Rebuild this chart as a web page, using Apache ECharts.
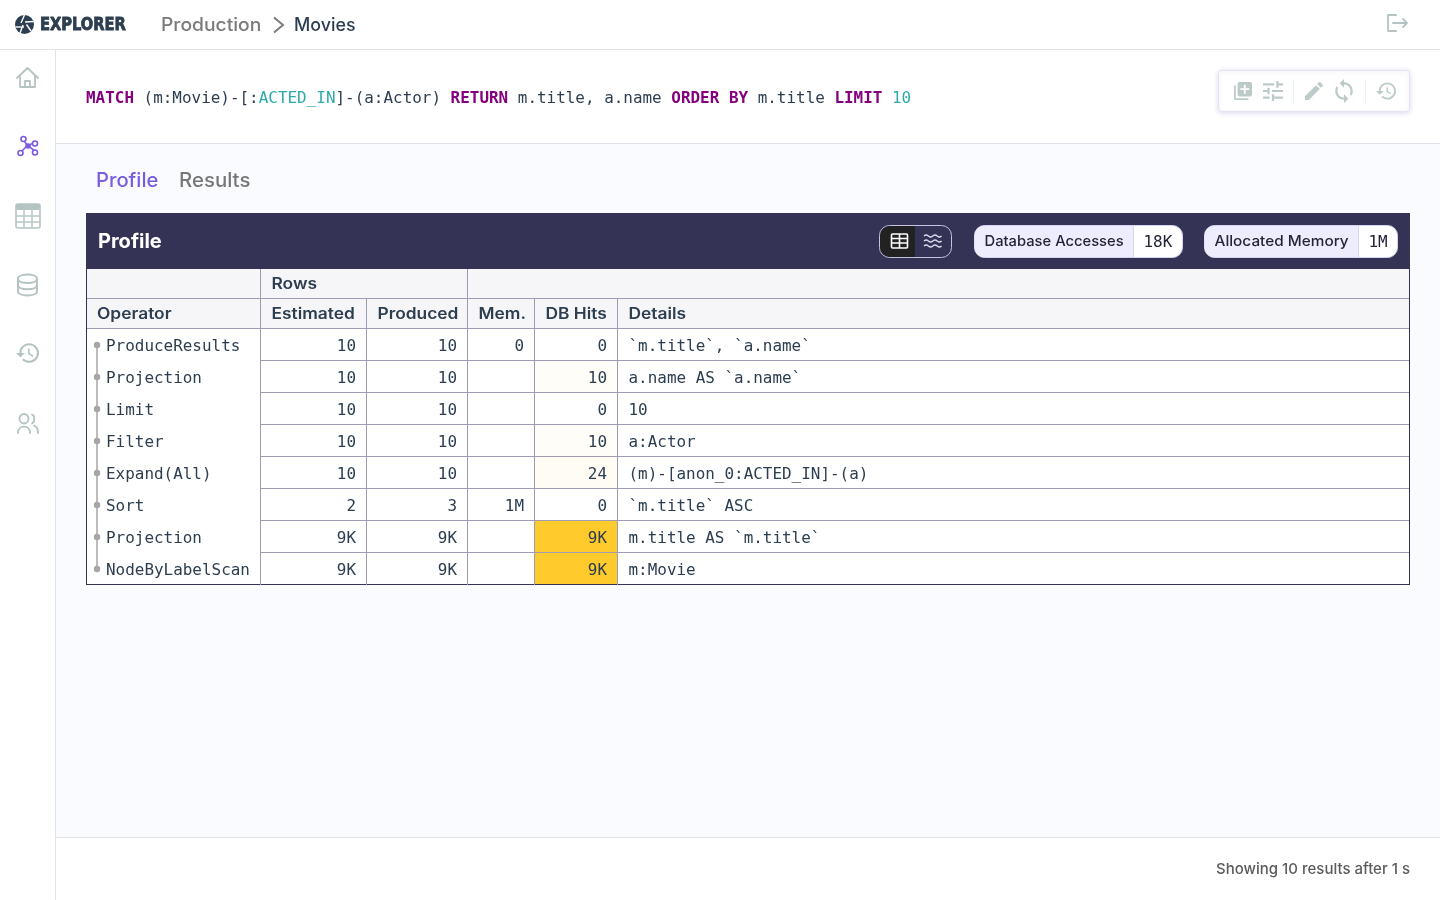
<!DOCTYPE html>
<html>
<head>
<meta charset="utf-8">
<title>Explorer - Profile</title>
<script src="https://cdn.jsdelivr.net/npm/echarts@6/dist/echarts.min.js"></script>
<style>
html, body { margin: 0; padding: 0; background: #fff; }
#main { width: 1440px; height: 900px; }
</style>
</head>
<body>
<div id="main"></div>
<script>
// table contents
var operators = ['ProduceResults', 'Projection', 'Limit', 'Filter', 'Expand(All)', 'Sort', 'Projection', 'NodeByLabelScan'];
var estimated = [10, 10, 10, 10, 10, 2, 9000, 9000];
var produced = [10, 10, 10, 10, 10, 3, 9000, 9000];
var memory = [0, null, null, null, null, 1000000, null, null];
var dbHits = [0, 10, 0, 10, 24, 0, 9000, 9000];
var details = ['`m.title`, `a.name`', 'a.name AS `a.name`', '10', 'a:Actor', '(m)-[anon_0:ACTED_IN]-(a)', '`m.title` ASC', 'm.title AS `m.title`', 'm:Movie'];
var columnTitles = ['Operator', 'Estimated', 'Produced', 'Mem.', 'DB Hits', 'Details'];

var SANS = 'Inter';
var MONO = '"DejaVu Sans Mono"';
var MONO_FONT = '15.95px ' + MONO;
var NAVY = '#2c3e50';
var BAND = '#343355';
var LINE = '#9e9bb3';
var ICON = '#b4c4c2';
var TOOL = '#bccbc9';

// column edges on the table x axis, px from the table's left side
var colEdges = [0, 175, 281, 382, 449, 532, 1324];

function fmt(v) {
    if (v === null) return '';
    if (v >= 1000000) return Math.round(v / 1000000) + 'M';
    if (v >= 1000) return Math.round(v / 1000) + 'K';
    return String(v);
}

// sc stretches Inter out to the width of the original's font
function sans(x, y, text, size, weight, color, sc, align) {
    return {
        type: 'text', x: x, y: y, scaleX: sc || 1, z2: 10,
        style: { text: text, x: 0, y: 0, font: weight + ' ' + size + 'px ' + SANS, fill: color, align: align || 'left', verticalAlign: 'middle' }
    };
}
function mono(x, y, text, color, align) {
    return {
        type: 'text', z2: 10,
        style: { text: text, x: x, y: y, font: MONO_FONT, fill: color || NAVY, align: align || 'left', verticalAlign: 'middle' }
    };
}
function box(x, y, w, h, fill, r, stroke, extra) {
    var el = {
        type: 'rect', z2: 1,
        shape: { x: x, y: y, width: w, height: h, r: r || 0 },
        style: { fill: fill, stroke: stroke || null, lineWidth: 1 }
    };
    for (var k in extra) el[k] = extra[k];
    return el;
}
function hline(x1, x2, y, color) {
    return { type: 'line', z2: 2, shape: { x1: x1, y1: y, x2: x2, y2: y }, style: { stroke: color, lineWidth: 1 } };
}
function vline(x, y1, y2, color) {
    return { type: 'line', z2: 12, shape: { x1: x, y1: y1, x2: x, y2: y2 }, style: { stroke: color, lineWidth: 1 } };
}
function icon(d, x, y, w, h, color) {
    return {
        type: 'path', z2: 11,
        shape: { pathData: d, x: x, y: y, width: w, height: h },
        style: { fill: color || ICON }
    };
}
function outline(d, x, y, w, h, color, lw) {
    return {
        type: 'path', z2: 11,
        shape: { pathData: d, x: x, y: y, width: w, height: h, layout: 'cover' },
        style: { fill: null, stroke: color || ICON, lineWidth: lw || 1.8, lineCap: 'round', lineJoin: 'round' }
    };
}

var HISTORY = 'M13 3c-4.97 0-9 4.03-9 9H1l3.89 3.89.07.14L9 12H6c0-3.87 3.13-7 7-7s7 3.13 7 7-3.13 7-7 7c-1.93 0-3.68-.79-4.94-2.06l-1.42 1.42C8.27 19.99 10.51 21 13 21c4.97 0 9-4.03 9-9s-4.03-9-9-9zm-1 5v5l4.28 2.54.72-1.21-3.5-2.08V8H12z';
var LIBRARY = 'M4 6H2v14c0 1.1.9 2 2 2h14v-2H4V6zm16-4H8c-1.1 0-2 .9-2 2v12c0 1.1.9 2 2 2h12c1.1 0 2-.9 2-2V4c0-1.1-.9-2-2-2zm-1 9h-4v4h-2v-4H9V9h4V5h2v4h4v2z';
var TUNE = 'M3 17v2h6v-2H3zM3 5v2h10V5H3zm10 16v-2h8v-2h-8v-2h-2v6h2zM7 9v2H3v2h4v2h2V9H7zm14 4v-2H11v2h10zm-6-4h2V7h4V5h-4V3h-2v6z';
var EDIT = 'M3 17.25V21h3.75L17.81 9.94l-3.75-3.75L3 17.25zM20.71 7.04c.39-.39.39-1.02 0-1.41l-2.34-2.34c-.39-.39-1.02-.39-1.41 0l-1.83 1.83 3.75 3.75 1.83-1.83z';
var SYNC = 'M12 4V1L8 5l4 4V6c3.31 0 6 2.69 6 6 0 1.01-.25 1.97-.7 2.8l1.46 1.46C19.54 15.03 20 13.57 20 12c0-4.42-3.58-8-8-8zm0 14c-3.31 0-6-2.69-6-6 0-1.01.25-1.97.7-2.8L5.24 7.74C4.46 8.97 4 10.43 4 12c0 4.42 3.58 8 8 8v3l4-4-4-4v3z';

function chrome() {
    var g = [];
    // panels
    g.push(box(56, 144, 1384, 693, '#fafbfe'));
    g.push(hline(0, 1440, 49.5, '#e1e1e9'));
    g.push(vline(55.5, 50, 900, '#e1e1e9'));
    g.push(hline(56, 1440, 143.5, '#e1e1e9'));
    g.push(hline(56, 1440, 837.5, '#e1e1e9'));

    // logo + breadcrumbs
    g.push({ type: 'circle', z2: 10, shape: { cx: 24.5, cy: 24.5, r: 9.5 }, style: { fill: '#2c3e50' } });
    ['M24.5 15 L21 23', 'M33.5 21.5 L25 22', 'M31 31 L26.5 24.5', 'M20 33 L23 25', 'M15.5 27 L24 27'].forEach(function (d) {
        g.push({ type: 'path', z2: 11, shape: { pathData: d }, style: { fill: null, stroke: '#fff', lineWidth: 1.4 } });
    });
    g.push({
        type: 'text', z2: 10, x: 40, y: 25.5, scaleX: 0.905,
        style: { text: 'EXPLORER', x: 0, y: 0, font: 'bold 18px "DejaVu Sans Condensed"', fill: NAVY, verticalAlign: 'middle', stroke: NAVY, lineWidth: 0.8 }
    });
    g.push(sans(161, 26, 'Production', 18, 500, '#7b7b7b', 1.07));
    g.push({ type: 'polyline', z2: 10, shape: { points: [[274, 17.5], [283, 25], [274, 32.5]] }, style: { fill: null, stroke: '#7b7b7b', lineWidth: 2 } });
    g.push(sans(294, 26, 'Movies', 18, 500, NAVY, 0.99));
    // logout
    g.push(outline('M1396 15 H1388 V31 H1396', 1388, 15, 8, 16));
    g.push(outline('M1393 23 H1407 M1403 19 L1407 23 L1403 27', 1393, 19, 14, 8));

    // side menu
    g.push(outline('M17 78 L27.5 68 L38 78 M20 75.5 V87 H35 V75.5 M25 87 V81 H30 V87', 17, 68, 21, 19));
    var p = '#7b5ce0';
    g.push(outline('M28 146 L23 139 M28 146 L36 143 M28 146 L22 152 M28 146 L35 151', 21, 138, 15, 14, p, 1.6));
    g.push({ type: 'circle', z2: 12, shape: { cx: 28, cy: 146, r: 2.8 }, style: { fill: p } });
    [[23.5, 139, 2.5], [35, 143.5, 2.5], [20.5, 153, 2.5], [35, 152.5, 2.5]].forEach(function (c) {
        g.push({ type: 'circle', z2: 12, shape: { cx: c[0], cy: c[1], r: c[2] }, style: { fill: '#fff', stroke: p, lineWidth: 1.6 } });
    });
    // table icon
    g.push(box(16, 204, 24, 24, '#fff', 2, ICON, { z2: 11, style: { fill: '#fff', stroke: ICON, lineWidth: 1.6 } }));
    g.push(box(16, 204, 24, 6, ICON, 2, null, { z2: 12 }));
    [216, 222].forEach(function (y) { g.push({ type: 'line', z2: 12, shape: { x1: 16, y1: y, x2: 40, y2: y }, style: { stroke: ICON, lineWidth: 1.4 } }); });
    [24, 32].forEach(function (x) { g.push({ type: 'line', z2: 12, shape: { x1: x, y1: 209, x2: x, y2: 228 }, style: { stroke: ICON, lineWidth: 1.4 } }); });
    // database
    g.push(outline('M18 279 C18 273.5 37 273.5 37 279 V291 C37 296.5 18 296.5 18 291 Z M18 279 C18 284.5 37 284.5 37 279 M18 285 C18 290.5 37 290.5 37 285', 18, 274.5, 19, 21, ICON, 2));
    g.push(icon(HISTORY, 16, 342, 23, 22));
    // users
    g.push(outline('M24 419.5 m-4.5 0 a4.5 4.5 0 1 0 9 0 a4.5 4.5 0 1 0 -9 0 M18 433 C18 425 30 425 30 433 M32 415.5 C35 416 35 423 32 424 M34 426 C37 427 38 430 38 433', 18, 414, 20, 19));

    // query
    g.push({
        type: 'text', z2: 10,
        style: {
            x: 86, y: 98.5, verticalAlign: 'middle',
            text: '{k|MATCH}{p| (m:Movie)-[:}{t|ACTED_IN}{p|]-(a:Actor) }{k|RETURN}{p| m.title, a.name }{k|ORDER BY}{p| m.title }{k|LIMIT}{p| }{t|10}',
            font: MONO_FONT,
            rich: {
                k: { font: 'bold ' + MONO_FONT, fill: '#85007f' },
                p: { font: MONO_FONT, fill: NAVY },
                t: { font: MONO_FONT, fill: '#2eabab' }
            }
        }
    });

    // query toolbar
    g.push(box(1218.5, 70.5, 191, 41, '#fff', 3, '#e3e3f1', { style: { fill: '#fff', stroke: '#e3e3f1', lineWidth: 1, shadowBlur: 5, shadowColor: 'rgba(110,100,190,0.22)', shadowOffsetY: 1 } }));
    g.push(icon(LIBRARY, 1234, 82, 18, 18, TOOL));
    g.push(icon(TUNE, 1263, 81, 20, 20, TOOL));
    g.push(vline(1293.5, 80, 103, '#eef0f0'));
    g.push(icon(EDIT, 1305, 82, 18, 18, TOOL));
    g.push(icon(SYNC, 1333, 79, 22, 24, TOOL));
    g.push(vline(1365.5, 80, 103, '#eef0f0'));
    g.push(icon(HISTORY, 1376, 81, 20, 20, TOOL));

    // tabs
    g.push(sans(96, 180.5, 'Profile', 20, 500, '#7b5ce0', 1.01));
    g.push(sans(179, 180.5, 'Results', 20, 500, '#777', 1.02));

    // profile band
    g.push(box(86, 213, 1324, 56, BAND));
    g.push(sans(98, 241.5, 'Profile', 20, 700, '#fff', 1));

    // view toggle
    g.push(box(879.5, 225.5, 72, 32, BAND, 10, '#c5c3e0', { z2: 3 }));
    g.push({ type: 'path', z2: 4, shape: { pathData: 'M890 226 H915 V257 H890 A10 10 0 0 1 880 247 V236 A10 10 0 0 1 890 226 Z' }, style: { fill: '#222' } });
    g.push(outline('M892.5 234 H906.5 Q907.5 234 907.5 235 V247 Q907.5 248 906.5 248 H892.5 Q891.5 248 891.5 247 V235 Q891.5 234 892.5 234 Z M891.5 238.5 H907.5 M891.5 243 H907.5 M899.5 234 V248', 891.5, 234, 16, 14, '#fff', 1.6));
    [236, 241, 246].forEach(function (y) {
        var d = 'M924 ' + y + ' q2.2 -2 4.4 0 t4.4 0 t4.4 0 t4.4 0';
        g.push({ type: 'path', z2: 11, shape: { pathData: d }, style: { fill: null, stroke: '#d9d8ee', lineWidth: 1.2 } });
    });

    // metric badges
    badge(g, 974.5, 1133.5, 1182.5, 'Database Accesses', '18K', 1.017);
    badge(g, 1204.5, 1358.5, 1397.5, 'Allocated Memory', '1M', 1.058);

    // footer
    g.push(sans(1410, 869.5, 'Showing 10 results after 1 s', 15, 500, '#5c5c5c', 1, 'right'));
    return g;
}

function badge(g, x0, xm, x1, label, value, sc) {
    g.push(box(x0, 225.5, x1 - x0, 32, '#fff', 10, '#d6d4f5', { z2: 3 }));
    g.push({
        type: 'path', z2: 4,
        shape: { pathData: 'M' + (x0 + 10) + ' 226 H' + xm + ' V257 H' + (x0 + 10) + ' A10 10 0 0 1 ' + x0 + ' 247 V236 A10 10 0 0 1 ' + (x0 + 10) + ' 226 Z' },
        style: { fill: '#eeedfd' }
    });
    g.push(vline(xm, 226, 257, '#d6d4f5'));
    g.push(sans(x0 + 10, 241.5, label, 14.5, 500, '#24243a', sc));
    g.push(mono(xm + 10, 242.5, value, '#24243a'));
}

// header cells: [from, to, row, text]
var headerCells = [
    [colEdges[0], colEdges[1], 0, ''],
    [colEdges[1], colEdges[3], 0, 'Rows'],
    [colEdges[3], colEdges[6], 0, '']
];
columnTitles.forEach(function (t, i) {
    headerCells.push([colEdges[i], colEdges[i + 1], 1, t]);
});

function renderHeader(params, api) {
    var c = headerCells[params.dataIndex];
    var a = api.coord([c[0], c[2]]);
    var b = api.coord([c[1], c[2]]);
    var h = api.size([0, 1])[1];
    var top = a[1] - h / 2, x0 = a[0], x1 = b[0];
    return {
        type: 'group',
        children: [
            { type: 'rect', shape: { x: x0, y: top, width: x1 - x0, height: h }, style: { fill: '#f6f6f9' } },
            { type: 'line', shape: { x1: x0, y1: top + h - 0.5, x2: x1, y2: top + h - 0.5 }, style: { stroke: LINE, lineWidth: 1 } },
            { type: 'line', shape: { x1: x1 - 0.5, y1: top, x2: x1 - 0.5, y2: top + h }, style: { stroke: c[1] === colEdges[6] ? BAND : LINE, lineWidth: 1 } },
            { type: 'line', shape: { x1: x0 + 0.5, y1: top, x2: x0 + 0.5, y2: top + h }, style: { stroke: c[0] === 0 ? BAND : 'transparent', lineWidth: 1 } },
            {
                type: 'text', x: x0 + 10.5 + (c[0] === 0 ? 0.5 : 0), y: a[1], scaleX: 1.12,
                style: { text: c[3], x: 0, y: 0, font: '600 15.5px ' + SANS, fill: NAVY, verticalAlign: 'middle' }
            }
        ]
    };
}

// body cells: one per table cell
var bodyCells = [];
[estimated, produced, memory, dbHits].forEach(function (values, col) {
    values.forEach(function (v, row) {
        bodyCells.push({ col: col + 1, row: row, value: v, text: fmt(v), align: 'right' });
    });
});
details.forEach(function (d, row) {
    bodyCells.push({ col: 5, row: row, value: null, text: d, align: 'left' });
});

var maxHits = Math.max.apply(null, dbHits);
function cellFill(c) {
    if (c.col !== 4 || !c.value) return '#fff';
    return echarts.color.lerp(Math.sqrt(c.value / maxHits), ['#ffffff', '#ffca2c']);
}

function renderCell(params, api) {
    var c = bodyCells[params.dataIndex];
    var a = api.coord([colEdges[c.col], c.row]);
    var b = api.coord([colEdges[c.col + 1], c.row]);
    var h = api.size([0, 1])[1];
    var top = a[1] - h / 2, x0 = a[0], x1 = b[0];
    var last = c.row === operators.length - 1;
    var right = c.col === 5;
    return {
        type: 'group',
        children: [
            { type: 'rect', shape: { x: x0, y: top, width: x1 - x0, height: h }, style: { fill: cellFill(c) } },
            { type: 'line', shape: { x1: x0, y1: top + h - 0.5, x2: x1, y2: top + h - 0.5 }, style: { stroke: last ? BAND : LINE, lineWidth: 1 } },
            { type: 'line', shape: { x1: x1 - 0.5, y1: top, x2: x1 - 0.5, y2: top + h }, style: { stroke: right ? BAND : LINE, lineWidth: 1 } },
            {
                type: 'text',
                style: {
                    text: c.text, x: c.align === 'right' ? x1 - 11 : x0 + 10.5, y: a[1] + 1.5,
                    font: MONO_FONT, fill: NAVY, align: c.align, verticalAlign: 'middle'
                }
            }
        ]
    };
}

// operator column, no row lines, with the plan tree down its left side
function renderOperator(params, api) {
    var row = params.dataIndex;
    var a = api.coord([colEdges[0], row]);
    var b = api.coord([colEdges[1], row]);
    var h = api.size([0, 1])[1];
    var top = a[1] - h / 2, last = row === operators.length - 1;
    return {
        type: 'group',
        children: [
            { type: 'rect', shape: { x: a[0], y: top, width: b[0] - a[0], height: h }, style: { fill: '#fff' } },
            { type: 'line', shape: { x1: a[0], y1: a[1] + h / 2 - 0.5, x2: b[0], y2: a[1] + h / 2 - 0.5 }, style: { stroke: last ? BAND : 'transparent', lineWidth: 1 } },
            { type: 'line', shape: { x1: b[0] - 0.5, y1: top, x2: b[0] - 0.5, y2: top + h }, style: { stroke: LINE, lineWidth: 1 } },
            { type: 'line', shape: { x1: a[0] + 0.5, y1: top, x2: a[0] + 0.5, y2: top + h }, style: { stroke: BAND, lineWidth: 1 } },
            { type: 'line', shape: { x1: a[0] + 11, y1: row === 0 ? a[1] : top, x2: a[0] + 11, y2: last ? a[1] : top + h }, style: { stroke: '#a6a6a6', lineWidth: 1.5 } },
            { type: 'circle', shape: { cx: a[0] + 11, cy: a[1], r: 3.2 }, style: { fill: '#a6a6a6' } },
            {
                type: 'text',
                style: { text: operators[row], x: a[0] + 20, y: a[1] + 1.5, font: MONO_FONT, fill: NAVY, verticalAlign: 'middle' }
            }
        ]
    };
}

var chart = echarts.init(document.getElementById('main'), null, { renderer: 'canvas' });
var hiddenX = { type: 'value', min: 0, max: colEdges[colEdges.length - 1], show: false };
var rowsAxis = function (data, idx) {
    return { type: 'category', data: data, inverse: true, show: false, gridIndex: idx };
};

chart.setOption({
    backgroundColor: '#fff',
    animation: false,
    tooltip: { show: false },
    grid: [
        { left: 86, top: 269, width: 1324, height: 60 },
        { left: 86, top: 329, width: 1324, height: 256 }
    ],
    xAxis: [
        Object.assign({ gridIndex: 0 }, hiddenX),
        Object.assign({ gridIndex: 1 }, hiddenX)
    ],
    yAxis: [
        rowsAxis(['group', 'columns'], 0),
        rowsAxis(operators.map(function (o, i) { return i + ' ' + o; }), 1)
    ],
    series: [
        {
            // page furniture around the table
            type: 'custom', coordinateSystem: 'none', silent: true, z: 1,
            renderItem: function () { return { type: 'group', children: chrome() }; },
            data: [[0]]
        },
        {
            type: 'custom', xAxisIndex: 0, yAxisIndex: 0, silent: true, z: 2,
            renderItem: renderHeader,
            encode: { x: [0, 1], y: 2 },
            data: headerCells.map(function (c) { return [c[0], c[1], c[2]]; })
        },
        {
            type: 'custom', xAxisIndex: 1, yAxisIndex: 1, silent: true, z: 2,
            renderItem: renderOperator,
            data: operators.map(function (o, i) { return [colEdges[0], colEdges[1], i]; }),
            encode: { x: [0, 1], y: 2 }
        },
        {
            type: 'custom', xAxisIndex: 1, yAxisIndex: 1, silent: true, z: 2,
            renderItem: renderCell,
            data: bodyCells.map(function (c) { return [colEdges[c.col], colEdges[c.col + 1], c.row]; }),
            encode: { x: [0, 1], y: 2 }
        }
    ]
});
</script>
</body>
</html>
